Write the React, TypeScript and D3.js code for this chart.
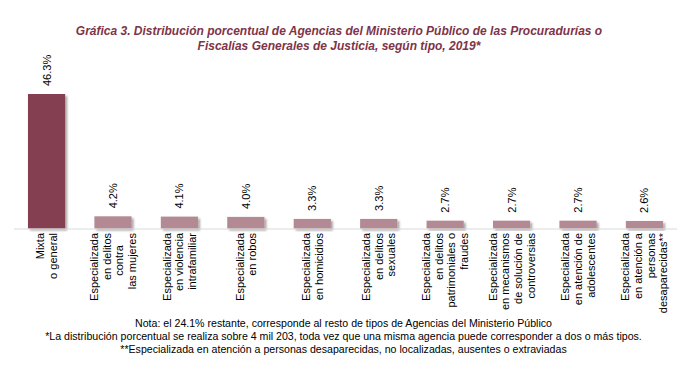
import * as d3 from 'd3'

const categories: string[][] = [
  ['Mixta', 'o general'],
  ['Especializada', 'en delitos', 'contra    ', 'las mujeres'],
  ['Especializada', 'en violencia', 'intrafamiliar'],
  ['Especializada', 'en robos'],
  ['Especializada', 'en homicidios'],
  ['Especializada', 'en delitos', 'sexuales'],
  ['Especializada', 'en delitos', 'patrimoniales o', 'fraudes'],
  ['Especializada', 'en mecanismos', 'de solución de', 'controversias'],
  ['Especializada', 'en atención de', 'adolescentes'],
  ['Especializada', 'en atención a', 'personas', 'desaparecidas**'],
]
const values = [46.3, 4.2, 4.1, 4.0, 3.3, 3.3, 2.7, 2.7, 2.7, 2.6]

const titleLines = [
  'Gráfica 3. Distribución porcentual de Agencias del Ministerio Público de las Procuradurías o',
  'Fiscalías Generales de Justicia, según tipo, 2019*',
]
const noteLines = [
  'Nota: el 24.1% restante, corresponde al resto de tipos de Agencias del Ministerio Público',
  '*La distribución porcentual se realiza sobre 4 mil 203, toda vez que una misma agencia puede corresponder a dos o más tipos.',
  '**Especializada en atención a personas desaparecidas, no localizadas, ausentes o extraviadas',
]

const W = 692
const H = 389
const BASE = 228.5
const FONT = '"Liberation Sans", Arial, sans-serif'
const DARK = '#843F51'
const LIGHT = '#B38A93'

export default function App() {
  const x = d3.scaleBand<number>()
    .domain(values.map((_, i) => i))
    .range([14, 677])
    .paddingInner(0.44)
    .paddingOuter(0.21)

  const y = d3.scaleLinear().domain([0, 46.3]).range([BASE, 94])

  const LINE_H = 12.7
  const LABEL_TOP = 233

  return (
    <svg width={W} height={H} style={{ position: 'absolute', left: 0, top: 0, background: '#fff' }}>
      <defs>
        <filter id="shadow" x="-20%" y="-20%" width="150%" height="150%">
          <feDropShadow dx={2} dy={2} stdDeviation={1.2} floodColor="#000" floodOpacity={0.35} />
        </filter>
      </defs>

      {/* Title */}
      {titleLines.map((t, i) => (
        <text key={i} x={339} y={34.5 + i * 15.5} textAnchor="middle"
          style={{ fontFamily: FONT, fontSize: 12, fontWeight: 700, fontStyle: 'italic', fill: '#7E3449' }}>
          {t}
        </text>
      ))}

      {/* Bars */}
      {values.map((v, i) => (
        <rect key={i} x={x(i)} y={y(v)} width={x.bandwidth()} height={BASE - y(v)}
          fill={i === 0 ? DARK : LIGHT} filter="url(#shadow)" />
      ))}

      {/* Axis line */}
      <line x1={14} x2={677} y1={BASE + 0.5} y2={BASE + 0.5} stroke="#D9D9D9" strokeWidth={1} />

      {/* Value labels */}
      {values.map((v, i) => {
        const cx = (x(i) ?? 0) + x.bandwidth() / 2
        return (
          <text key={i} transform={`translate(${cx},${y(v) - 8}) rotate(-90)`}
            dominantBaseline="central"
            style={{ fontFamily: FONT, fontSize: 11, fill: '#000' }}>
            {`${v.toFixed(1)}%`}
          </text>
        )
      })}

      {/* Category labels */}
      {categories.map((lines, i) => {
        const cx = (x(i) ?? 0) + x.bandwidth() / 2
        const n = lines.length
        return (
          <g key={i} transform={`translate(${cx},${LABEL_TOP}) rotate(-90)`}>
            {lines.map((l, j) => (
              <text key={j} x={0} y={(j - (n - 1) / 2) * LINE_H} textAnchor="end"
                dominantBaseline="central"
                style={{ fontFamily: FONT, fontSize: 11, fill: '#000', whiteSpace: 'pre' }}>
                {l}
              </text>
            ))}
          </g>
        )
      })}

      {/* Notes */}
      {noteLines.map((t, i) => (
        <text key={i} x={343.5} y={327 + i * 12.8} textAnchor="middle"
          style={{ fontFamily: FONT, fontSize: 10.6, fill: '#000' }}>
          {t}
        </text>
      ))}
    </svg>
  )
}
